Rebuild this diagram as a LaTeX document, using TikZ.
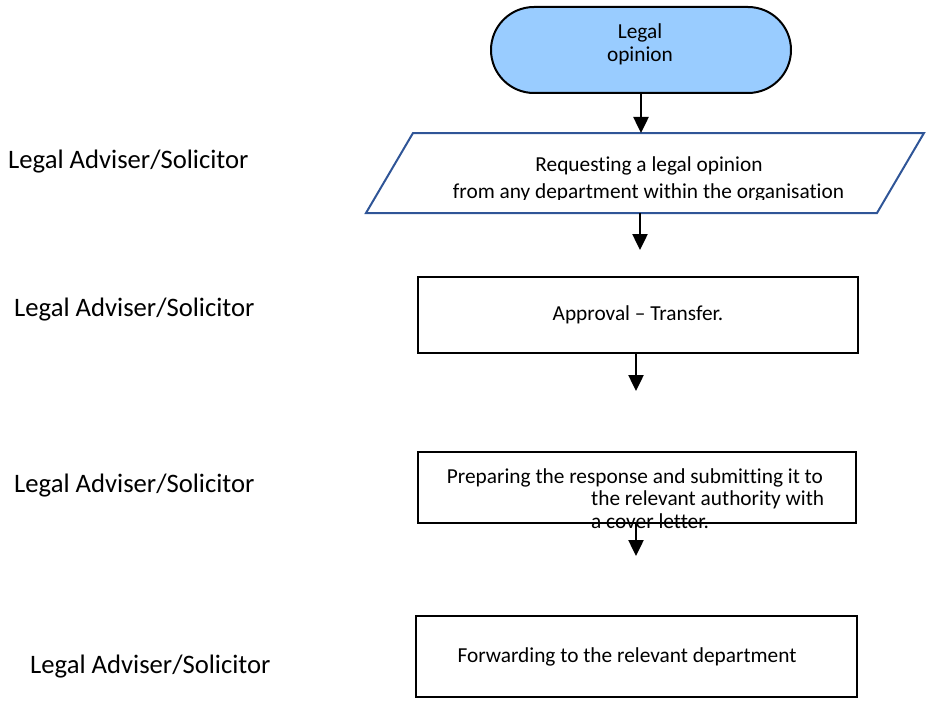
\documentclass[tikz,border=0pt]{standalone}
\usepackage{fontspec}
\setmainfont{Carlito}[Ligatures=NoCommon]
\usetikzlibrary{arrows.meta,shapes.misc}
\definecolor{termfill}{RGB}{153,204,255}
\definecolor{parablue}{RGB}{47,85,151}
\tikzset{
 shapebox/.style={draw=black,line width=2pt,inner sep=0pt},
 arr/.style={line width=2.5pt,-{Triangle[width=15pt,length=16pt]}},
 boxtext/.style={inner sep=0pt,font=\fontsize{21.33}{26}\selectfont},
 lanelabel/.style={inner sep=0pt,anchor=base west,font=\fontsize{26.67}{32}\selectfont},
}
\begin{document}
\begin{tikzpicture}[x=1pt,y=-1pt]
\useasboundingbox (0,0) rectangle (930,709);
% terminal
\node[rounded rectangle, shapebox, fill=termfill, minimum width=300pt, minimum height=86pt] (term) at (641,50) {};
\node[boxtext,anchor=base] (t1a) at (640,39) {Legal};
\node[boxtext,anchor=base] (t1b) at (640,62) {opinion};
% parallelogram
\draw[parablue, line width=2pt] (413,133) coordinate (pTL) -- (924,133) coordinate (pTR) -- (877,213) coordinate (pBR) -- (366,213) coordinate (pBL) -- cycle;
\coordinate (pTop) at (641,133);
\coordinate (pBot) at (640,213);
\node[boxtext,anchor=base] (t2a) at (649,171.7) {Requesting a legal opinion};
\begin{scope}
\clip (360,0) rectangle (930,199);
\node[boxtext,anchor=base] (t2b) at (648.5,198.3) {from any department within the organisation};
\end{scope}
% boxes
\node[shapebox, minimum width=440pt, minimum height=76pt] (b2) at (638,315) {};
\node[boxtext,anchor=base] (t3) at (638,320) {Approval – Transfer.};
\node[shapebox, minimum width=438pt, minimum height=71pt] (b3) at (637,487.5) {};
\node[boxtext,anchor=base west] (t4a) at (446.7,483.3) {Preparing the response and submitting it to};
\node[boxtext,anchor=base west] (t4b) at (591,505.7) {the relevant authority with};
\node[boxtext,anchor=base west] (t4c) at (591,528) {a cover letter.};
\node[shapebox, minimum width=441pt, minimum height=81pt] (b4) at (636.5,656.5) {};
\node[boxtext,anchor=base] (t5) at (627,662.7) {Forwarding to the relevant department};
% connectors
\coordinate (a2e) at (640,250);
\coordinate (a3e) at (636,391);
\coordinate (a4e) at (636,556);
\draw[arr] (term.south) -- (pTop);
\draw[arr] (pBot) -- (a2e);
\draw[arr] (b2.south -| a3e) -- (a3e);
\draw[arr] (b3.south -| a4e) -- (a4e);
% lane labels
\node[lanelabel] (l1) at (8,168.3) {Legal Adviser/Solicitor};
\node[lanelabel] (l2) at (14,316.5) {Legal Adviser/Solicitor};
\node[lanelabel] (l3) at (14,492.5) {Legal Adviser/Solicitor};
\node[lanelabel] (l4) at (30,673.5) {Legal Adviser/Solicitor};
\end{tikzpicture}
\end{document}
